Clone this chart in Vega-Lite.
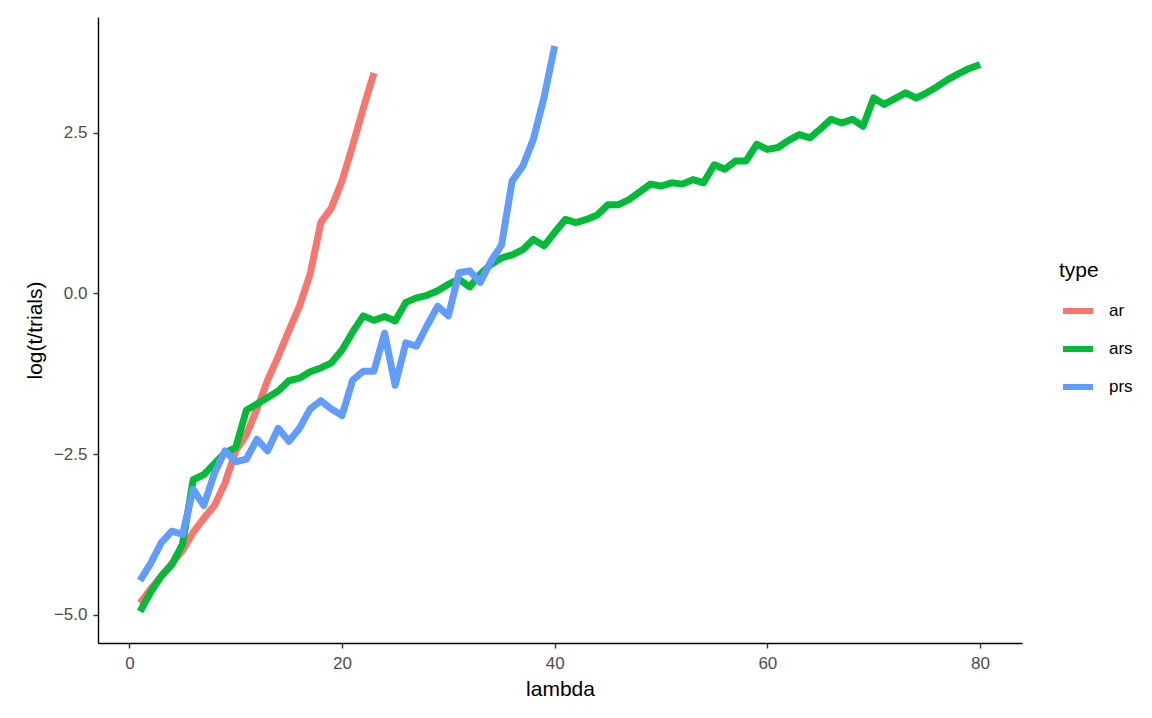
{
  "$schema": "https://vega.github.io/schema/vega-lite/v6.json",
  "width": 924,
  "height": 626,
  "autosize": {"type": "none"},
  "padding": {"left": 98, "top": 17, "right": 130, "bottom": 75},
  "background": "white",
  "config": {
    "font": "Liberation Sans",
    "view": {"stroke": null},
    "axis": {
      "grid": false,
      "domainColor": "#000000",
      "domainWidth": 1.4,
      "tickColor": "#333333",
      "tickWidth": 1.4,
      "tickSize": 5,
      "labelColor": "#4D4D4D",
      "labelFont": "Liberation Sans",
      "labelFontSize": 17,
      "titleFont": "Liberation Sans",
      "titleFontSize": 21,
      "titleFontWeight": "normal",
      "titleColor": "#000000"
    }
  },
  "data": {
    "values": [
      {"lambda": 1, "value": -4.82, "type": "ar"},
      {"lambda": 2, "value": -4.6, "type": "ar"},
      {"lambda": 3, "value": -4.4, "type": "ar"},
      {"lambda": 4, "value": -4.2, "type": "ar"},
      {"lambda": 5, "value": -4.0, "type": "ar"},
      {"lambda": 6, "value": -3.72, "type": "ar"},
      {"lambda": 7, "value": -3.5, "type": "ar"},
      {"lambda": 8, "value": -3.3, "type": "ar"},
      {"lambda": 9, "value": -2.95, "type": "ar"},
      {"lambda": 10, "value": -2.45, "type": "ar"},
      {"lambda": 11, "value": -2.2, "type": "ar"},
      {"lambda": 12, "value": -1.8, "type": "ar"},
      {"lambda": 13, "value": -1.35, "type": "ar"},
      {"lambda": 14, "value": -0.98, "type": "ar"},
      {"lambda": 15, "value": -0.58, "type": "ar"},
      {"lambda": 16, "value": -0.2, "type": "ar"},
      {"lambda": 17, "value": 0.3, "type": "ar"},
      {"lambda": 18, "value": 1.1, "type": "ar"},
      {"lambda": 19, "value": 1.33, "type": "ar"},
      {"lambda": 20, "value": 1.75, "type": "ar"},
      {"lambda": 21, "value": 2.3, "type": "ar"},
      {"lambda": 22, "value": 2.88, "type": "ar"},
      {"lambda": 23, "value": 3.43, "type": "ar"},

      {"lambda": 1, "value": -4.95, "type": "ars"},
      {"lambda": 2, "value": -4.65, "type": "ars"},
      {"lambda": 3, "value": -4.4, "type": "ars"},
      {"lambda": 4, "value": -4.22, "type": "ars"},
      {"lambda": 5, "value": -3.9, "type": "ars"},
      {"lambda": 6, "value": -2.9, "type": "ars"},
      {"lambda": 7, "value": -2.82, "type": "ars"},
      {"lambda": 8, "value": -2.65, "type": "ars"},
      {"lambda": 9, "value": -2.48, "type": "ars"},
      {"lambda": 10, "value": -2.4, "type": "ars"},
      {"lambda": 11, "value": -1.82, "type": "ars"},
      {"lambda": 12, "value": -1.72, "type": "ars"},
      {"lambda": 13, "value": -1.62, "type": "ars"},
      {"lambda": 14, "value": -1.52, "type": "ars"},
      {"lambda": 15, "value": -1.36, "type": "ars"},
      {"lambda": 16, "value": -1.32, "type": "ars"},
      {"lambda": 17, "value": -1.22, "type": "ars"},
      {"lambda": 18, "value": -1.16, "type": "ars"},
      {"lambda": 19, "value": -1.08, "type": "ars"},
      {"lambda": 20, "value": -0.88, "type": "ars"},
      {"lambda": 21, "value": -0.6, "type": "ars"},
      {"lambda": 22, "value": -0.35, "type": "ars"},
      {"lambda": 23, "value": -0.42, "type": "ars"},
      {"lambda": 24, "value": -0.36, "type": "ars"},
      {"lambda": 25, "value": -0.43, "type": "ars"},
      {"lambda": 26, "value": -0.14, "type": "ars"},
      {"lambda": 27, "value": -0.07, "type": "ars"},
      {"lambda": 28, "value": -0.03, "type": "ars"},
      {"lambda": 29, "value": 0.04, "type": "ars"},
      {"lambda": 30, "value": 0.14, "type": "ars"},
      {"lambda": 31, "value": 0.22, "type": "ars"},
      {"lambda": 32, "value": 0.1, "type": "ars"},
      {"lambda": 33, "value": 0.3, "type": "ars"},
      {"lambda": 34, "value": 0.45, "type": "ars"},
      {"lambda": 35, "value": 0.55, "type": "ars"},
      {"lambda": 36, "value": 0.6, "type": "ars"},
      {"lambda": 37, "value": 0.68, "type": "ars"},
      {"lambda": 38, "value": 0.84, "type": "ars"},
      {"lambda": 39, "value": 0.74, "type": "ars"},
      {"lambda": 40, "value": 0.95, "type": "ars"},
      {"lambda": 41, "value": 1.15, "type": "ars"},
      {"lambda": 42, "value": 1.1, "type": "ars"},
      {"lambda": 43, "value": 1.15, "type": "ars"},
      {"lambda": 44, "value": 1.22, "type": "ars"},
      {"lambda": 45, "value": 1.38, "type": "ars"},
      {"lambda": 46, "value": 1.38, "type": "ars"},
      {"lambda": 47, "value": 1.46, "type": "ars"},
      {"lambda": 48, "value": 1.58, "type": "ars"},
      {"lambda": 49, "value": 1.7, "type": "ars"},
      {"lambda": 50, "value": 1.67, "type": "ars"},
      {"lambda": 51, "value": 1.72, "type": "ars"},
      {"lambda": 52, "value": 1.7, "type": "ars"},
      {"lambda": 53, "value": 1.77, "type": "ars"},
      {"lambda": 54, "value": 1.72, "type": "ars"},
      {"lambda": 55, "value": 2.0, "type": "ars"},
      {"lambda": 56, "value": 1.93, "type": "ars"},
      {"lambda": 57, "value": 2.06, "type": "ars"},
      {"lambda": 58, "value": 2.06, "type": "ars"},
      {"lambda": 59, "value": 2.32, "type": "ars"},
      {"lambda": 60, "value": 2.24, "type": "ars"},
      {"lambda": 61, "value": 2.27, "type": "ars"},
      {"lambda": 62, "value": 2.38, "type": "ars"},
      {"lambda": 63, "value": 2.47, "type": "ars"},
      {"lambda": 64, "value": 2.42, "type": "ars"},
      {"lambda": 65, "value": 2.56, "type": "ars"},
      {"lambda": 66, "value": 2.71, "type": "ars"},
      {"lambda": 67, "value": 2.65, "type": "ars"},
      {"lambda": 68, "value": 2.71, "type": "ars"},
      {"lambda": 69, "value": 2.6, "type": "ars"},
      {"lambda": 70, "value": 3.04, "type": "ars"},
      {"lambda": 71, "value": 2.94, "type": "ars"},
      {"lambda": 72, "value": 3.03, "type": "ars"},
      {"lambda": 73, "value": 3.12, "type": "ars"},
      {"lambda": 74, "value": 3.04, "type": "ars"},
      {"lambda": 75, "value": 3.12, "type": "ars"},
      {"lambda": 76, "value": 3.22, "type": "ars"},
      {"lambda": 77, "value": 3.33, "type": "ars"},
      {"lambda": 78, "value": 3.42, "type": "ars"},
      {"lambda": 79, "value": 3.5, "type": "ars"},
      {"lambda": 80, "value": 3.56, "type": "ars"},

      {"lambda": 1, "value": -4.47, "type": "prs"},
      {"lambda": 2, "value": -4.2, "type": "prs"},
      {"lambda": 3, "value": -3.88, "type": "prs"},
      {"lambda": 4, "value": -3.7, "type": "prs"},
      {"lambda": 5, "value": -3.75, "type": "prs"},
      {"lambda": 6, "value": -3.05, "type": "prs"},
      {"lambda": 7, "value": -3.3, "type": "prs"},
      {"lambda": 8, "value": -2.8, "type": "prs"},
      {"lambda": 9, "value": -2.45, "type": "prs"},
      {"lambda": 10, "value": -2.62, "type": "prs"},
      {"lambda": 11, "value": -2.58, "type": "prs"},
      {"lambda": 12, "value": -2.27, "type": "prs"},
      {"lambda": 13, "value": -2.45, "type": "prs"},
      {"lambda": 14, "value": -2.1, "type": "prs"},
      {"lambda": 15, "value": -2.3, "type": "prs"},
      {"lambda": 16, "value": -2.1, "type": "prs"},
      {"lambda": 17, "value": -1.8, "type": "prs"},
      {"lambda": 18, "value": -1.67, "type": "prs"},
      {"lambda": 19, "value": -1.8, "type": "prs"},
      {"lambda": 20, "value": -1.9, "type": "prs"},
      {"lambda": 21, "value": -1.35, "type": "prs"},
      {"lambda": 22, "value": -1.21, "type": "prs"},
      {"lambda": 23, "value": -1.21, "type": "prs"},
      {"lambda": 24, "value": -0.62, "type": "prs"},
      {"lambda": 25, "value": -1.43, "type": "prs"},
      {"lambda": 26, "value": -0.77, "type": "prs"},
      {"lambda": 27, "value": -0.82, "type": "prs"},
      {"lambda": 28, "value": -0.5, "type": "prs"},
      {"lambda": 29, "value": -0.2, "type": "prs"},
      {"lambda": 30, "value": -0.35, "type": "prs"},
      {"lambda": 31, "value": 0.32, "type": "prs"},
      {"lambda": 32, "value": 0.35, "type": "prs"},
      {"lambda": 33, "value": 0.17, "type": "prs"},
      {"lambda": 34, "value": 0.5, "type": "prs"},
      {"lambda": 35, "value": 0.75, "type": "prs"},
      {"lambda": 36, "value": 1.75, "type": "prs"},
      {"lambda": 37, "value": 1.98, "type": "prs"},
      {"lambda": 38, "value": 2.4, "type": "prs"},
      {"lambda": 39, "value": 3.05, "type": "prs"},
      {"lambda": 40, "value": 3.85, "type": "prs"}
    ]
  },
  "mark": {"type": "line", "strokeWidth": 7, "strokeCap": "butt", "strokeJoin": "round"},
  "encoding": {
    "x": {
      "field": "lambda",
      "type": "quantitative",
      "title": "lambda",
      "scale": {"domain": [-2.95, 83.95], "nice": false, "zero": false},
      "axis": {"values": [0, 20, 40, 60, 80], "labelPadding": 7, "titlePadding": 7}
    },
    "y": {
      "field": "value",
      "type": "quantitative",
      "title": "log(t/trials)",
      "scale": {"domain": [-5.44, 4.3], "nice": false, "zero": false},
      "axis": {"values": [-5, -2.5, 0, 2.5], "format": ".1f", "labelPadding": 6, "titlePadding": 8}
    },
    "color": {
      "field": "type",
      "type": "nominal",
      "scale": {"domain": ["ar", "ars", "prs"], "range": ["#F8766D", "#00BA38", "#619CFF"]},
      "legend": {
        "title": "type",
        "orient": "none",
        "legendX": 961,
        "legendY": 243,
        "titleFont": "Liberation Sans",
        "titleFontSize": 21,
        "titleFontWeight": "normal",
        "titleColor": "#000000",
        "titlePadding": 12,
        "labelFont": "Liberation Sans",
        "labelFontSize": 17,
        "labelColor": "#000000",
        "labelOffset": 13,
        "symbolType": "stroke",
        "symbolSize": 900,
        "symbolStrokeWidth": 6,
        "symbolOffset": 1,
        "rowPadding": 8
      }
    }
  }
}
